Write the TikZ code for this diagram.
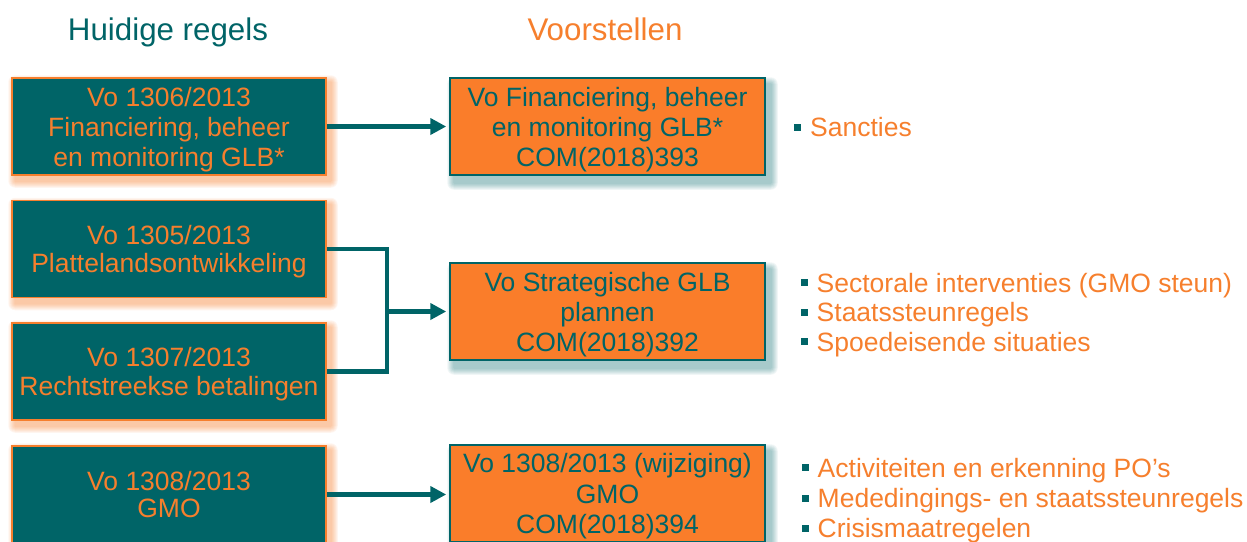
\documentclass[tikz,border=0pt]{standalone}
\usepackage{fontspec}
\setmainfont{Liberation Sans}
\usetikzlibrary{arrows.meta,calc}
\definecolor{teal1}{RGB}{0,100,103}
\definecolor{orng}{RGB}{246,127,45}
\definecolor{orfill}{RGB}{250,125,42}
\pgfdeclarelayer{bg}
\pgfsetlayers{bg,main}
\newcommand\bulsq{\textcolor{teal1}{\rule[6pt]{7pt}{7pt}}\hspace{9pt}}
\newcommand\topst{\rule{0pt}{25pt}}
\newcommand\botst{\rule[-6pt]{0pt}{6pt}}
\begin{document}
\begin{tikzpicture}[x=1pt,y=-1pt,
  txt/.style={font=\fontsize{26.5}{30}\selectfont},
  lsp/.style={font=\fontsize{26.5}{#1}\selectfont},
  oldbox/.style={draw=orng, line width=1.5pt, fill=teal1, text=orng,
    minimum width=314pt, minimum height=97pt, inner sep=0pt, align=center, txt},
  newbox/.style={draw=teal1, line width=1.5pt, fill=orfill, text=teal1,
    minimum width=315pt, minimum height=97pt, inner sep=0pt, align=center, txt},
  conn/.style={draw=teal1, line width=4.5pt, line join=miter},
  arr/.style={conn, -{Triangle[length=16pt,width=16pt]}, shorten >=3pt},
  bul/.style={anchor=base west, inner sep=0pt, text=orng, txt},
  ttl/.style={font=\fontsize{31.3}{36}\selectfont, anchor=base, inner sep=0pt}]

\useasboundingbox (0,0) rectangle (1247,541);
\clip (0,0) rectangle (1247,541);

% titles
\node[ttl, text=teal1] (t1) at (168,40) {Huidige regels};
\node[ttl, text=orng] (t2) at (605,40) {Voorstellen};

% current rules
\node[oldbox] (a1) at (169,126.5) {\topst Vo 1306/2013\\Financiering, beheer\\en monitoring GLB*\botst};
\node[oldbox, lsp=28.5] (a2) at (169,249) {\topst Vo 1305/2013\\Plattelandsontwikkeling\botst};
\node[oldbox, lsp=29] (a3) at (169,371.5) {\topst Vo 1307/2013\\Rechtstreekse betalingen\botst};
\node[oldbox, lsp=27.5] (a4) at (169,494.5) {\topst Vo 1308/2013\\GMO\botst};

% proposals
\node[newbox] (n1) at (607.5,126.5) {\topst Vo Financiering, beheer\\en monitoring GLB*\\COM(2018)393\botst};
\node[newbox] (n2) at (607.5,311.5) {\topst Vo Strategische GLB\\plannen\\COM(2018)392\botst};
\node[newbox, lsp=30.5] (n3) at (607.5,493.5) {\topst Vo 1308/2013 (wijziging)\\GMO\\COM(2018)394\botst};

% bullets
\node[bul] (s1) at (794,136.5) {\bulsq Sancties};
\node[bul] (s2) at (800.5,292) {\bulsq Sectorale interventies (GMO steun)};
\node[bul] (s3) at (800.5,321.5) {\bulsq Staatssteunregels};
\node[bul] (s4) at (800.5,351) {\bulsq Spoedeisende situaties};
\node[bul] (s5) at (801.5,477) {\bulsq Activiteiten en erkenning PO’s};
\node[bul] (s6) at (801.5,507.5) {\bulsq Mededingings- en staatssteunregels};
\node[bul] (s7) at (801.5,537.5) {\bulsq Crisismaatregelen};

% connectors
\draw[arr] (a1.east) -- (n1.west);
\path (387,0) coordinate (jx);
\coordinate (j) at (n2.west -| jx);
\draw[conn] (a2.east) -- (a2.east -| jx) -- (a3.east -| jx) -- (a3.east);
\draw[arr] (j) -- (n2.west);
\draw[arr] (a4.east) -- (a4.east -| n3.west);

% shadows
\begin{pgfonlayer}{bg}
\foreach \b in {a1,a2,a3,a4}{
  \foreach \k in {1,...,7}{
    \fill[orng, opacity=0.075, rounded corners=\k pt]
      ([shift={(4-\k,5-\k)}]\b.north west) rectangle ([shift={(4+\k,5+\k)}]\b.south east);
  }
}
\foreach \b in {n1,n2,n3}{
  \foreach \k in {1,...,7}{
    \fill[teal1, opacity=0.06, rounded corners=\k pt]
      ([shift={(5-\k,7-\k)}]\b.north west) rectangle ([shift={(5+\k,7+\k)}]\b.south east);
  }
}
\end{pgfonlayer}
\end{tikzpicture}
\end{document}
